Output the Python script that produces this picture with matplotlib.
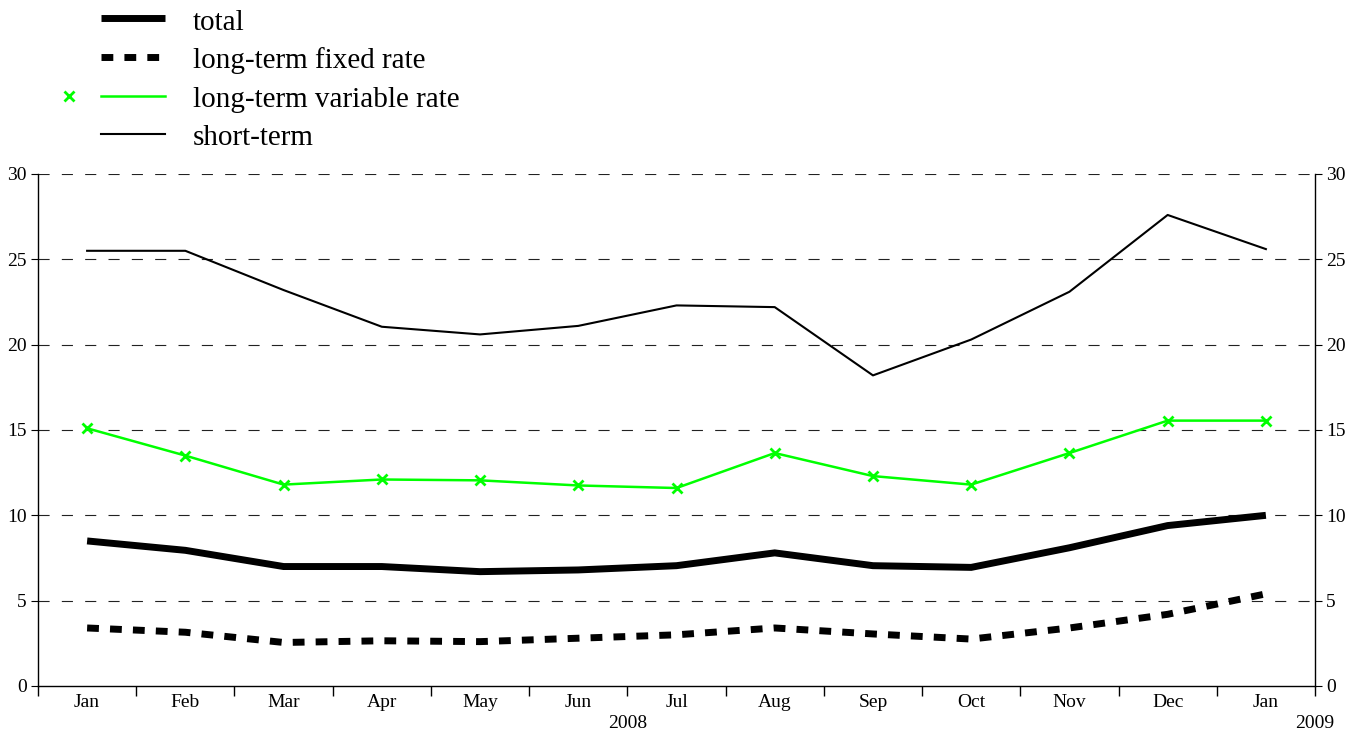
import numpy as np
import matplotlib.pyplot as plt
from matplotlib.lines import Line2D

plt.rcParams['font.family'] = ['Liberation Serif', 'DejaVu Serif']

# months shown on the x axis (Jan 2008 .. Jan 2009)
months = ["Jan", "Feb", "Mar", "Apr", "May", "Jun", "Jul",
          "Aug", "Sep", "Oct", "Nov", "Dec", "Jan"]

# series values
total = [8.5, 7.95, 7.0, 7.0, 6.7, 6.8, 7.05, 7.8, 7.05, 6.95, 8.1, 9.4, 10.0]
fixed_rate = [3.4, 3.15, 2.55, 2.65, 2.6, 2.8, 3.0, 3.4, 3.05, 2.75, 3.4, 4.2, 5.4]
variable_rate = [15.1, 13.5, 11.8, 12.1, 12.05, 11.75, 11.6, 13.65, 12.3, 11.8, 13.65, 15.55, 15.55]
short_term = [25.5, 25.5, 23.2, 21.05, 20.6, 21.1, 22.3, 22.2, 18.2, 20.3, 23.1, 27.6, 25.6]

y_ticks = [0, 5, 10, 15, 20, 25, 30]

GREEN = "#00ff00"
thick = dict(color="black", lw=5.0, solid_capstyle="butt", solid_joinstyle="miter")
dashed = dict(color="black", lw=5.0, ls=(0, (1.7, 1.6)))
green = dict(color=GREEN, lw=1.8)
thin = dict(color="black", lw=1.5)

fig = plt.figure(figsize=(13.57, 7.36), dpi=100)
ax = fig.add_axes([38 / 1357, 1 - 686 / 736, (1315 - 38) / 1357, (686 - 174) / 736])

x = np.arange(len(months))

# dashed gridlines
for v in y_ticks[1:]:
    ax.axhline(v, color="#222222", lw=0.8, ls=(0, (10, 11)), zorder=1)

ax.plot(x, short_term, zorder=3, **thin)
ax.plot(x, variable_rate, marker="x", ms=7, mew=2, zorder=3, **green)
ax.plot(x, total, zorder=4, **thick)
ax.plot(x, fixed_rate, zorder=4, **dashed)

ax.set_xlim(-0.5, len(months) - 0.5)
ax.set_ylim(0, 30)

ax.spines["top"].set_visible(False)
for s in ["left", "right", "bottom"]:
    ax.spines[s].set_color("black")
    ax.spines[s].set_linewidth(1.0)

ax.set_yticks(y_ticks)
ax.tick_params(axis="y", which="both", direction="out", length=5, labelsize=14,
               left=True, right=True, labelleft=True, labelright=True, pad=3)

# x tick marks at category boundaries, labels at centers
ax.set_xticks(np.arange(-0.5, len(months), 1.0))
ax.set_xticklabels([])
ax.tick_params(axis="x", direction="out", length=7, width=1.0)
for i, m in enumerate(months):
    ax.text(i, -0.016, m, transform=ax.get_xaxis_transform(), ha="center", va="top", fontsize=14)

ax.text(5.5, -0.057, "2008", transform=ax.get_xaxis_transform(), ha="center", va="top", fontsize=14)
ax.text(12.5, -0.057, "2009", transform=ax.get_xaxis_transform(), ha="center", va="top", fontsize=14)

# legend drawn by hand in figure pixels
W, H = 1357, 736
legend_items = [("total", thick), ("long-term fixed rate", dashed),
                ("long-term variable rate", green), ("short-term", thin)]
line_y = [18, 57, 96, 134]
text_base = [30, 68, 107, 145]
for (label, style), yl, yt in zip(legend_items, line_y, text_base):
    fig.add_artist(Line2D([101 / W, 165 / W], [1 - yl / H, 1 - yl / H],
                          transform=fig.transFigure, **style))
    fig.text(193 / W, 1 - yt / H, label, ha="left", va="baseline", fontsize=21)
fig.add_artist(Line2D([69 / W], [1 - 96 / H], transform=fig.transFigure,
                      color=GREEN, marker="x", ms=7, mew=2, ls="none"))

fig.savefig("out.png", dpi=100)
